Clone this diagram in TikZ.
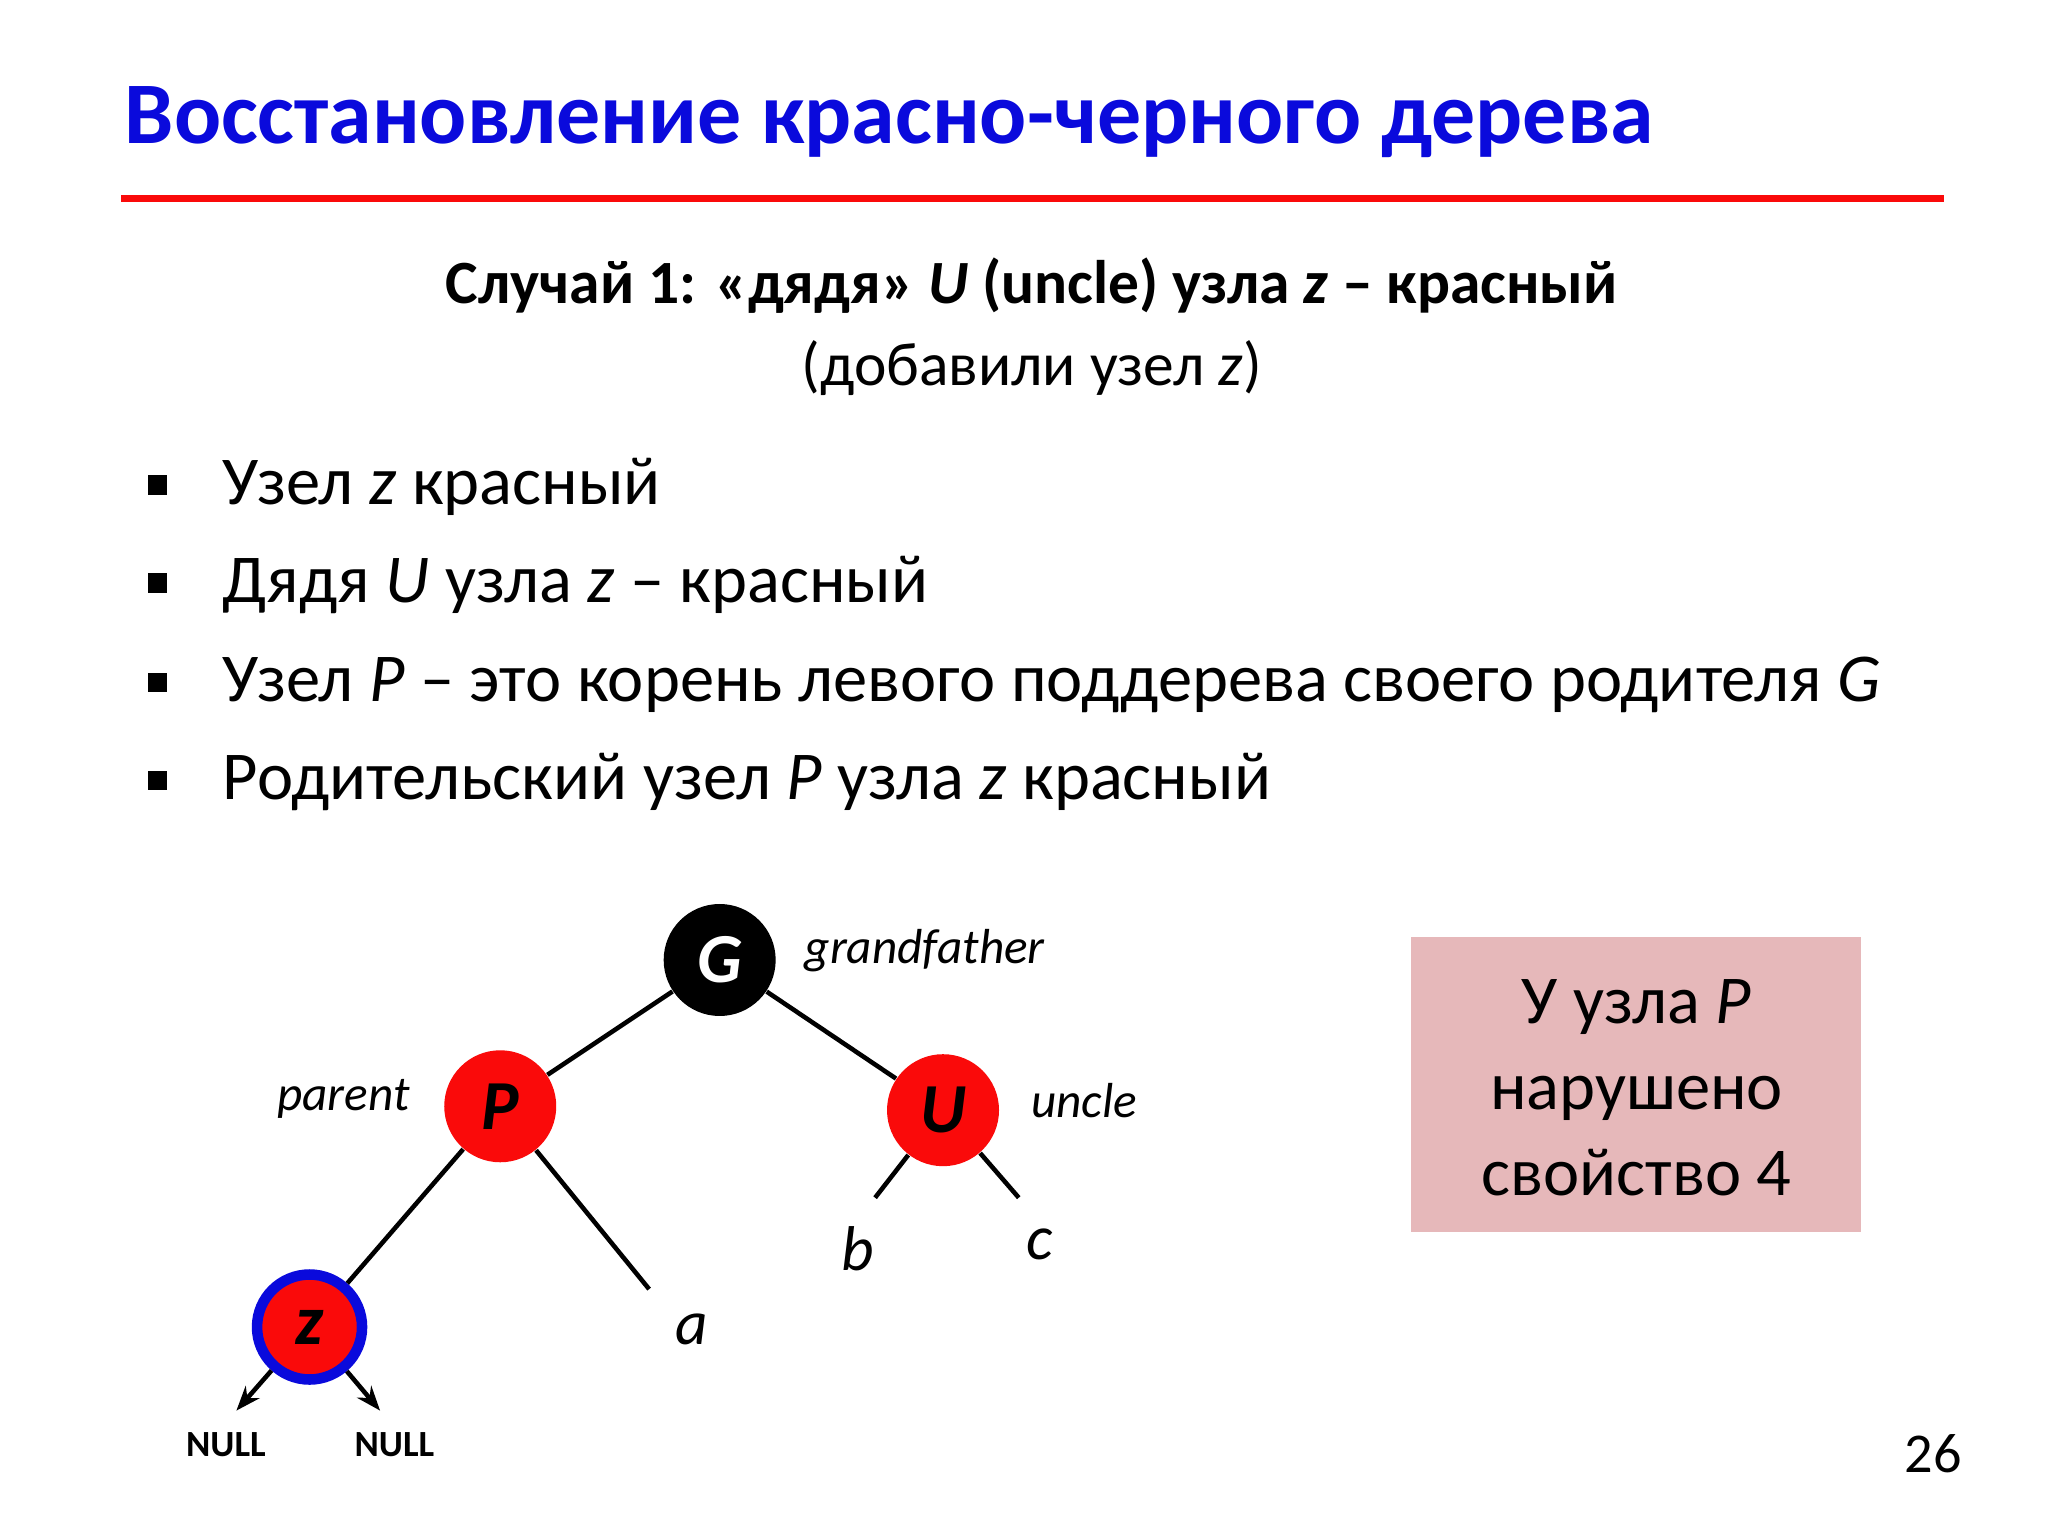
\documentclass[tikz,border=0pt]{standalone}
\usepackage{fontspec}
\setmainfont{Carlito}
\usetikzlibrary{arrows.meta}
\definecolor{tblue}{RGB}{10,10,220}
\definecolor{nred}{RGB}{250,10,10}
\definecolor{boxpink}{RGB}{230,184,186}
\tikzset{
 rb/.style={circle,minimum size=1.12cm,inner sep=0pt,font=\fontsize{20}{24}\selectfont\bfseries\itshape},
 edge/.style={line width=1.3pt},
 lab/.style={font=\fontsize{14}{17}\selectfont\itshape},
 leaf/.style={font=\fontsize{18}{22}\selectfont\itshape},
 bul/.style={anchor=base west,font=\fontsize{19.5}{24}\selectfont},
}
\begin{document}
\begin{tikzpicture}[x=0.01306cm,y=-0.01306cm]
\useasboundingbox (0,0) rectangle (1568,1176);
\fill[white] (0,0) rectangle (1568,1176);
\node[anchor=base west,inner sep=0,text=tblue,font=\fontsize{25}{30}\selectfont\bfseries] (title) at (95,110) {Восстановление красно-черного дерева};
\draw[nred,line width=2pt] (93,152) -- (1488,152);
\node[anchor=base,inner sep=0,font=\fontsize{17.5}{21}\selectfont\bfseries] (sub) at (790,232) {Случай 1: «дядя» \textit{U} (uncle) узла \textit{z} – красный};
\node[anchor=base,inner sep=0,font=\fontsize{17.5}{21}\selectfont] (sub2) at (790,295) {(добавили узел \textit{z})};
\foreach \yy/\t [count=\i] in {386/{Узел \textit{z} красный},461/{Дядя \textit{U} узла \textit{z} – красный},537/{Узел \textit{P} – это корень левого поддерева своего родителя \textit{G}},612/{Родительский узел \textit{P} узла \textit{z} красный}}{
 \fill (113,\yy-22) rectangle (128,\yy-7);
 \node[bul,inner sep=0] (b\i) at (170,\yy) {\t};
}
\node[rb,fill=black,text=white] (G) at (551,735) {G};
\node[rb,fill=nred] (P) at (383,847) {P};
\node[rb,fill=nred] (U) at (722,850) {U};
\node[rb,fill=nred,draw=tblue,line width=3pt,minimum size=1.05cm] (z) at (237,1016) {z};
\coordinate (pa) at (497,987);
\coordinate (ub) at (670,917);
\coordinate (uc) at (780,917);
\coordinate (n1) at (181,1080);
\coordinate (n2) at (291,1080);
\draw[edge] (G) -- (P);
\draw[edge] (G) -- (U);
\draw[edge] (P) -- (z);
\draw[edge] (P) -- (pa);
\draw[edge] (U) -- (ub);
\draw[edge] (U) -- (uc);
\draw[edge,-{Stealth[length=7pt]}] (z) -- (n1);
\draw[edge,-{Stealth[length=7pt]}] (z) -- (n2);
\node[lab] (lg) at (708,728) {grandfather};
\node[lab] (lp) at (263,841) {parent};
\node[lab] (lu) at (830,843) {uncle};
\node[leaf] (la) at (530,1018) {a};
\node[leaf] (lb) at (657,956) {b};
\node[leaf] (lc) at (796,953) {c};
\node[font=\fontsize{10.5}{12}\selectfont\bfseries] (l1) at (173,1106) {NULL};
\node[font=\fontsize{10.5}{12}\selectfont\bfseries] (l2) at (302,1106) {NULL};
\node[fill=boxpink,minimum width=4.5cm,minimum height=2.95cm,anchor=north west,inner sep=0] (box) at (1080,717) {};
\node[align=center,font=\fontsize{19.5}{24.5}\selectfont] (bt) at (1253,833) {У узла \textit{P}\\нарушено\\свойство 4};
\node[font=\fontsize{16}{19}\selectfont] (pg) at (1480,1113) {26};
\end{tikzpicture}
\end{document}
